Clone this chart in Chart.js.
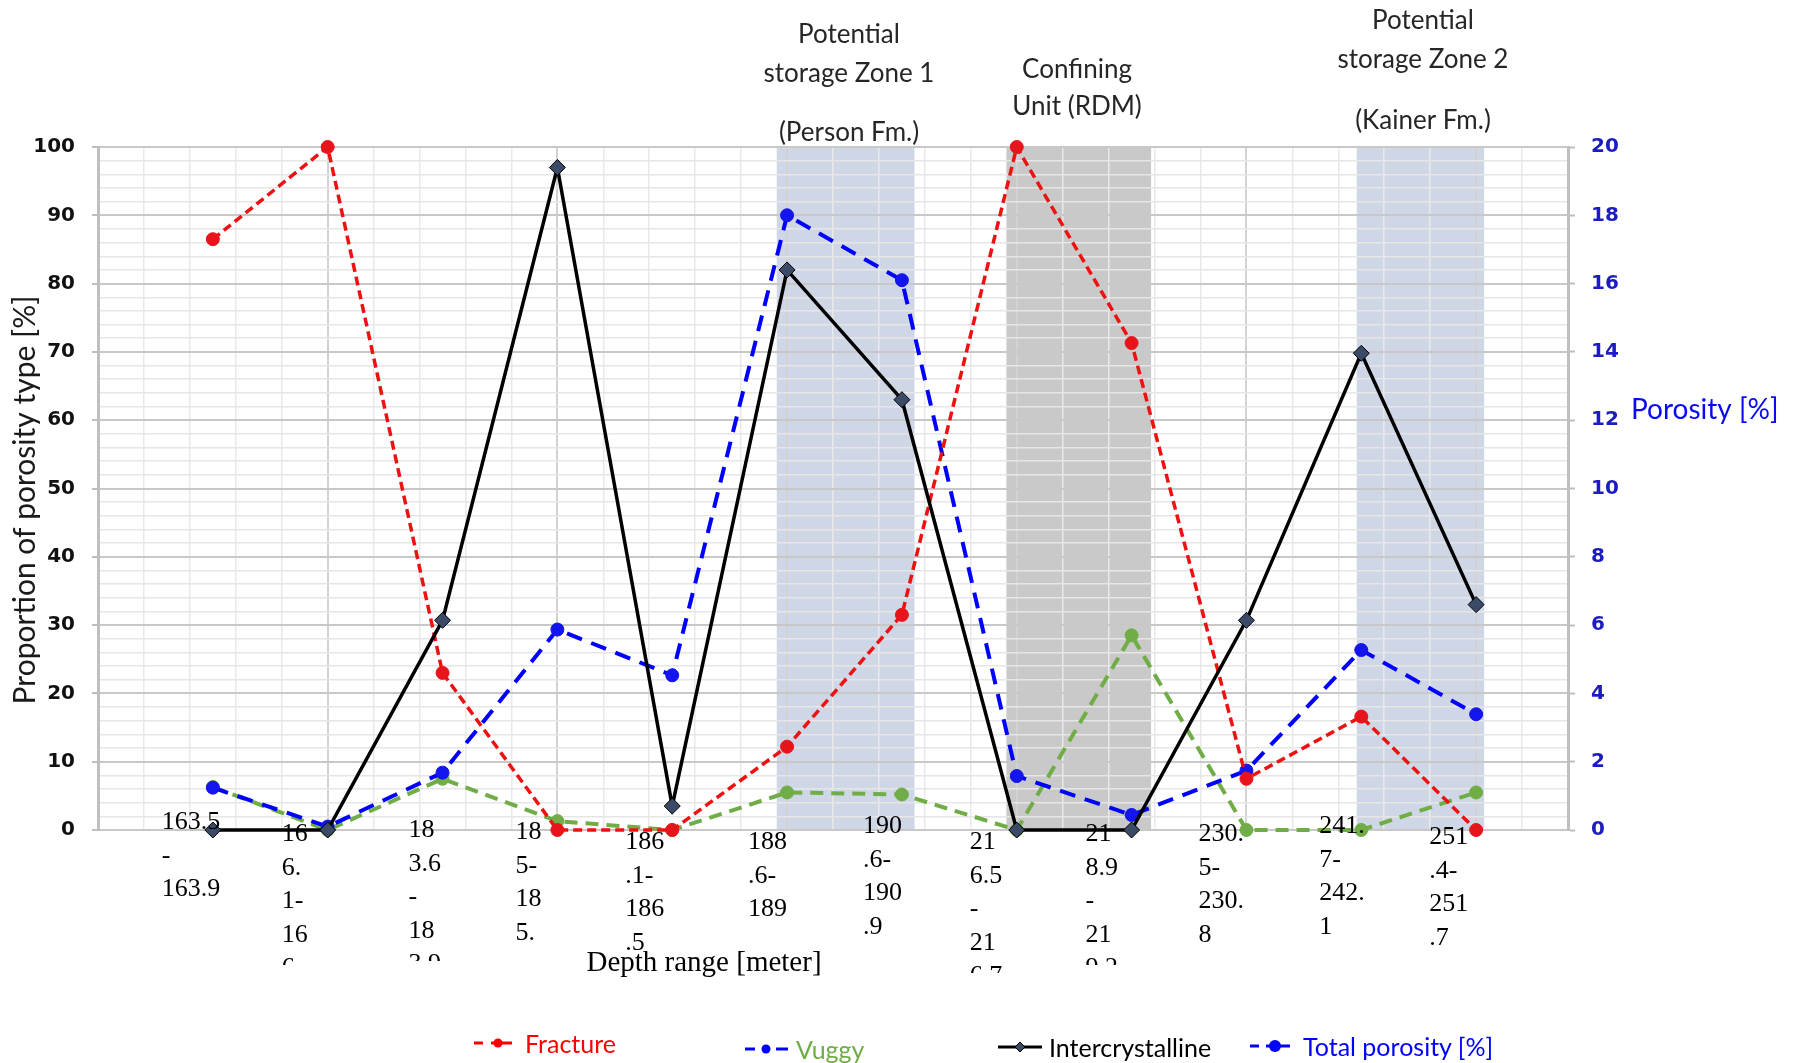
<!DOCTYPE html>
<html>
<head>
<meta charset="utf-8">
<script src="https://cdn.jsdelivr.net/npm/chart.js@4.4.1/dist/chart.umd.min.js"></script>
<style>
html,body{margin:0;padding:0;background:#fff;}
#wrap{position:relative;width:1798px;height:1063px;overflow:hidden;}
#c{position:absolute;left:0;top:0;}
.leg{position:absolute;height:30px;line-height:30px;font-family:Lato,'Open Sans',sans-serif;font-size:25px;white-space:nowrap;display:flex;align-items:center;}
.leg svg{margin-right:7px;}
</style>
</head>
<body>
<div id="wrap">
<canvas id="c" width="1798" height="1063"></canvas>
<div class="leg" style="left:474px;top:1028px;color:#ff0000"><svg width="44" height="14"><line x1="0" y1="7" x2="9" y2="7" stroke="#ff0000" stroke-width="3"/><line x1="17" y1="7" x2="38" y2="7" stroke="#ff0000" stroke-width="3"/><circle cx="24" cy="7" r="4.5" fill="#ff0000"/></svg>Fracture</div>
<div class="leg" style="left:745px;top:1034px;color:#70ad47"><svg width="44" height="14"><line x1="0" y1="7" x2="10" y2="7" stroke="#0000ff" stroke-width="3"/><line x1="31" y1="7" x2="43" y2="7" stroke="#0000ff" stroke-width="3"/><circle cx="21" cy="7" r="4.5" fill="#0000ff"/></svg>Vuggy</div>
<div class="leg" style="left:998px;top:1032px;color:#000"><svg width="44" height="14"><line x1="0" y1="7" x2="44" y2="7" stroke="#000" stroke-width="3"/><polygon points="22,2 27,7 22,12 17,7" fill="#3b4a66" stroke="#000" stroke-width="1"/></svg>Intercrystalline</div>
<div class="leg" style="left:1250px;top:1031px;color:#0000ff"><svg width="46" height="16"><line x1="0" y1="8" x2="9" y2="8" stroke="#0000ff" stroke-width="3"/><line x1="16" y1="8" x2="40" y2="8" stroke="#0000ff" stroke-width="3"/><circle cx="25" cy="8" r="6" fill="#0000ff"/></svg>Total porosity [%]</div>
</div>
<script>
// ---- data ----
const depthTickLabels = [
  ["163.5","-","163.9"],
  ["16","6.","1-","16","6."],
  ["18","3.6","-","18","3.9"],
  ["18","5-","18","5."],
  ["186",".1-","186",".5"],
  ["188",".6-","189"],
  ["190",".6-","190",".9"],
  ["21","6.5","-","21","6.7"],
  ["21","8.9","-","21","9.2"],
  ["230.","5-","230.","8"],
  ["241.","7-","242.","1"],
  ["251",".4-","251",".7"]
];
const fracture         = [86.5, 100, 23, 0, 0, 12.2, 31.5, 100, 71.3, 7.5, 16.6, 0];
const vuggy            = [6.3, 0, 7.5, 1.3, 0, 5.5, 5.2, 0, 28.5, 0, 0, 5.5];
const intercrystalline = [0, 0, 30.7, 97, 3.5, 82, 63, 0, 0, 30.7, 69.8, 33];
const totalPorosity    = [1.24, 0.1, 1.68, 5.87, 4.53, 18, 16.1, 1.58, 0.44, 1.74, 5.27, 3.39];
const leftTicks  = [0,10,20,30,40,50,60,70,80,90,100];
const rightTicks = [0,2,4,6,8,10,12,14,16,18,20];
const zoneNames = [
  ["Potential","storage Zone 1","","(Person Fm.)"],
  ["Confining","Unit (RDM)"],
  ["Potential","storage Zone 2","","(Kainer Fm.)"]
];
// zone extents along the depth-index axis
const zoneSpans = [[5.91, 7.11], [7.91, 9.17], [10.96, 12.07]];

// ---- layout / style (not data) ----
const zoneFill = ['#cfd7e6', '#c9c9c9', '#cfd7e6'];
const zoneTextPos = [{x:849, y:[35,74,0,133]}, {x:1077, y:[70,107]}, {x:1423, y:[21,60,0,121]}];
const labelDx = [-51,-46,-34,-42,-47,-39,-39,-47,-46,-48,-42,-47];
const labelDy = [-10,2,-2,0,10,10,-6,10,2,2,-6,5];
const LINE_H = 33.5;

const pts = arr => arr.map((v,i) => ({x: i+1, y: v}));
const isMult = (v, m) => Math.abs(v/m - Math.round(v/m)) < 1e-6;

const overlay = {
  id: 'overlay',
  beforeDraw(chart) {
    const {ctx, chartArea: a, scales: {x}} = chart;
    ctx.save();
    zoneSpans.forEach((z, i) => {
      const x0 = x.getPixelForValue(z[0]), x1 = x.getPixelForValue(z[1]);
      ctx.fillStyle = zoneFill[i];
      ctx.fillRect(x0, a.top, x1 - x0, a.bottom - a.top);
    });
    ctx.restore();
  },
  afterDraw(chart) {
    const {ctx, chartArea: a, scales: {x}} = chart;
    ctx.save();
    // depth tick labels (narrow wrapped text boxes, clipped)
    ctx.font = '26px "Liberation Serif", "Times New Roman", serif';
    ctx.fillStyle = '#000';
    ctx.textAlign = 'left';
    ctx.textBaseline = 'alphabetic';
    depthTickLabels.forEach((lines, i) => {
      const px = x.getPixelForValue(i + 1) + labelDx[i];
      const y0 = a.bottom + labelDy[i];
      ctx.save();
      ctx.beginPath();
      ctx.rect(px - 10, 0, 120, y0 + 133);
      ctx.clip();
      lines.forEach((t, k) => ctx.fillText(t, px, y0 + k * LINE_H + 9));
      ctx.restore();
    });
    // x axis title
    ctx.font = '29px "Liberation Serif", "Times New Roman", serif';
    ctx.textAlign = 'center';
    ctx.fillText('Depth range [meter]', 704, 971);
    // left axis title (rotated)
    ctx.save();
    ctx.translate(25, 500);
    ctx.rotate(-Math.PI / 2);
    ctx.font = '30px Lato, "Open Sans", sans-serif';
    ctx.fillStyle = '#1a1a1a';
    ctx.textBaseline = 'middle';
    ctx.fillText('Proportion of porosity type [%]', 0, 0);
    ctx.restore();
    // zone titles
    ctx.font = '26px Lato, "Open Sans", sans-serif';
    ctx.fillStyle = '#262626';
    ctx.textAlign = 'center';
    ctx.textBaseline = 'middle';
    zoneNames.forEach((lines, i) => {
      lines.forEach((t, k) => { if (t) ctx.fillText(t, zoneTextPos[i].x, zoneTextPos[i].y[k]); });
    });
    // right axis title (horizontal)
    ctx.font = '28px Lato, "Open Sans", sans-serif';
    ctx.fillStyle = '#0a0af5';
    ctx.textAlign = 'left';
    ctx.fillText('Porosity [%]', 1631, 410);
    ctx.restore();
  }
};

const common = {clip: false, tension: 0, pointBorderWidth: 1};
const tickFont = {family: '"DejaVu Sans", Lato, sans-serif', weight: 'bold', size: 20};

new Chart(document.getElementById('c'), {
  type: 'line',
  data: {
    datasets: [
      Object.assign({label: 'Vuggy', data: pts(vuggy), yAxisID: 'y',
        borderColor: '#70ad47', backgroundColor: '#70ad47', pointBorderColor: '#70ad47',
        borderDash: [13, 8], borderWidth: 4, pointRadius: 6.5, pointStyle: 'circle', order: 4}, common),
      Object.assign({label: 'Total porosity [%]', data: pts(totalPorosity), yAxisID: 'y2',
        borderColor: '#0000ff', backgroundColor: '#1414ee', pointBorderColor: '#1414ee',
        borderDash: [16, 10], borderWidth: 4, pointRadius: 6.5, pointStyle: 'circle', order: 3}, common),
      Object.assign({label: 'Fracture', data: pts(fracture), yAxisID: 'y',
        borderColor: '#ee1111', backgroundColor: '#e8141c', pointBorderColor: '#e8141c',
        borderDash: [9, 5], borderWidth: 3.5, pointRadius: 6.5, pointStyle: 'circle', order: 2}, common),
      Object.assign({label: 'Intercrystalline', data: pts(intercrystalline), yAxisID: 'y',
        borderColor: '#000000', backgroundColor: '#3b4a66', pointBorderColor: '#000000',
        borderWidth: 3.5, pointRadius: 8, pointStyle: 'rectRot', pointBorderWidth: 1.5, order: 1}, common)
    ]
  },
  options: {
    responsive: false,
    animation: false,
    events: [],
    layout: {padding: {top: 147, left: 0, right: 0, bottom: 0}},
    plugins: {legend: {display: false}, tooltip: {enabled: false}},
    scales: {
      x: {
        type: 'linear', min: 0, max: 12.8,
        afterBuildTicks: s => { s.ticks = Array.from({length: 33}, (_, k) => ({value: Math.round(k * 4) / 10})); },
        ticks: {display: false, autoSkip: false},
        grid: {
          color: c => isMult(c.tick.value, 2) ? '#d2d2d2' : '#e9e9e9',
          lineWidth: c => isMult(c.tick.value, 2) ? 2 : 1.5,
          drawTicks: false
        },
        border: {color: '#c8c8c8', width: 2},
        afterFit: s => { s.height = 233; }
      },
      y: {
        position: 'left', min: 0, max: 100,
        afterBuildTicks: s => {
          const t = [];
          for (let v = 0; v <= 100; v += 2) t.push({value: v});
          s.ticks = t;
        },
        ticks: {
          autoSkip: false,
          callback: v => leftTicks.includes(v) ? String(v) : '',
          font: tickFont,
          color: '#111111', padding: 17
        },
        grid: {
          color: c => isMult(c.tick.value, 10) ? '#c8c8c8' : '#e6e6e6',
          lineWidth: c => isMult(c.tick.value, 10) ? 2 : 1.5,
          tickColor: c => isMult(c.tick.value, 10) ? '#bfbfbf' : 'rgba(0,0,0,0)',
          tickLength: 6, tickWidth: 2
        },
        border: {color: '#bfbfbf', width: 3},
        afterFit: s => { s.width = 98; }
      },
      y2: {
        position: 'right', min: 0, max: 20,
        afterBuildTicks: s => { s.ticks = rightTicks.map(v => ({value: v})); },
        ticks: {autoSkip: false, font: tickFont, color: '#1c1cc0', padding: 16},
        grid: {drawOnChartArea: false, tickLength: 7, tickColor: '#bfbfbf', tickWidth: 2},
        border: {color: '#bfbfbf', width: 3},
        afterFit: s => { s.width = 230; }
      }
    }
  },
  plugins: [overlay]
});
</script>
</body>
</html>
